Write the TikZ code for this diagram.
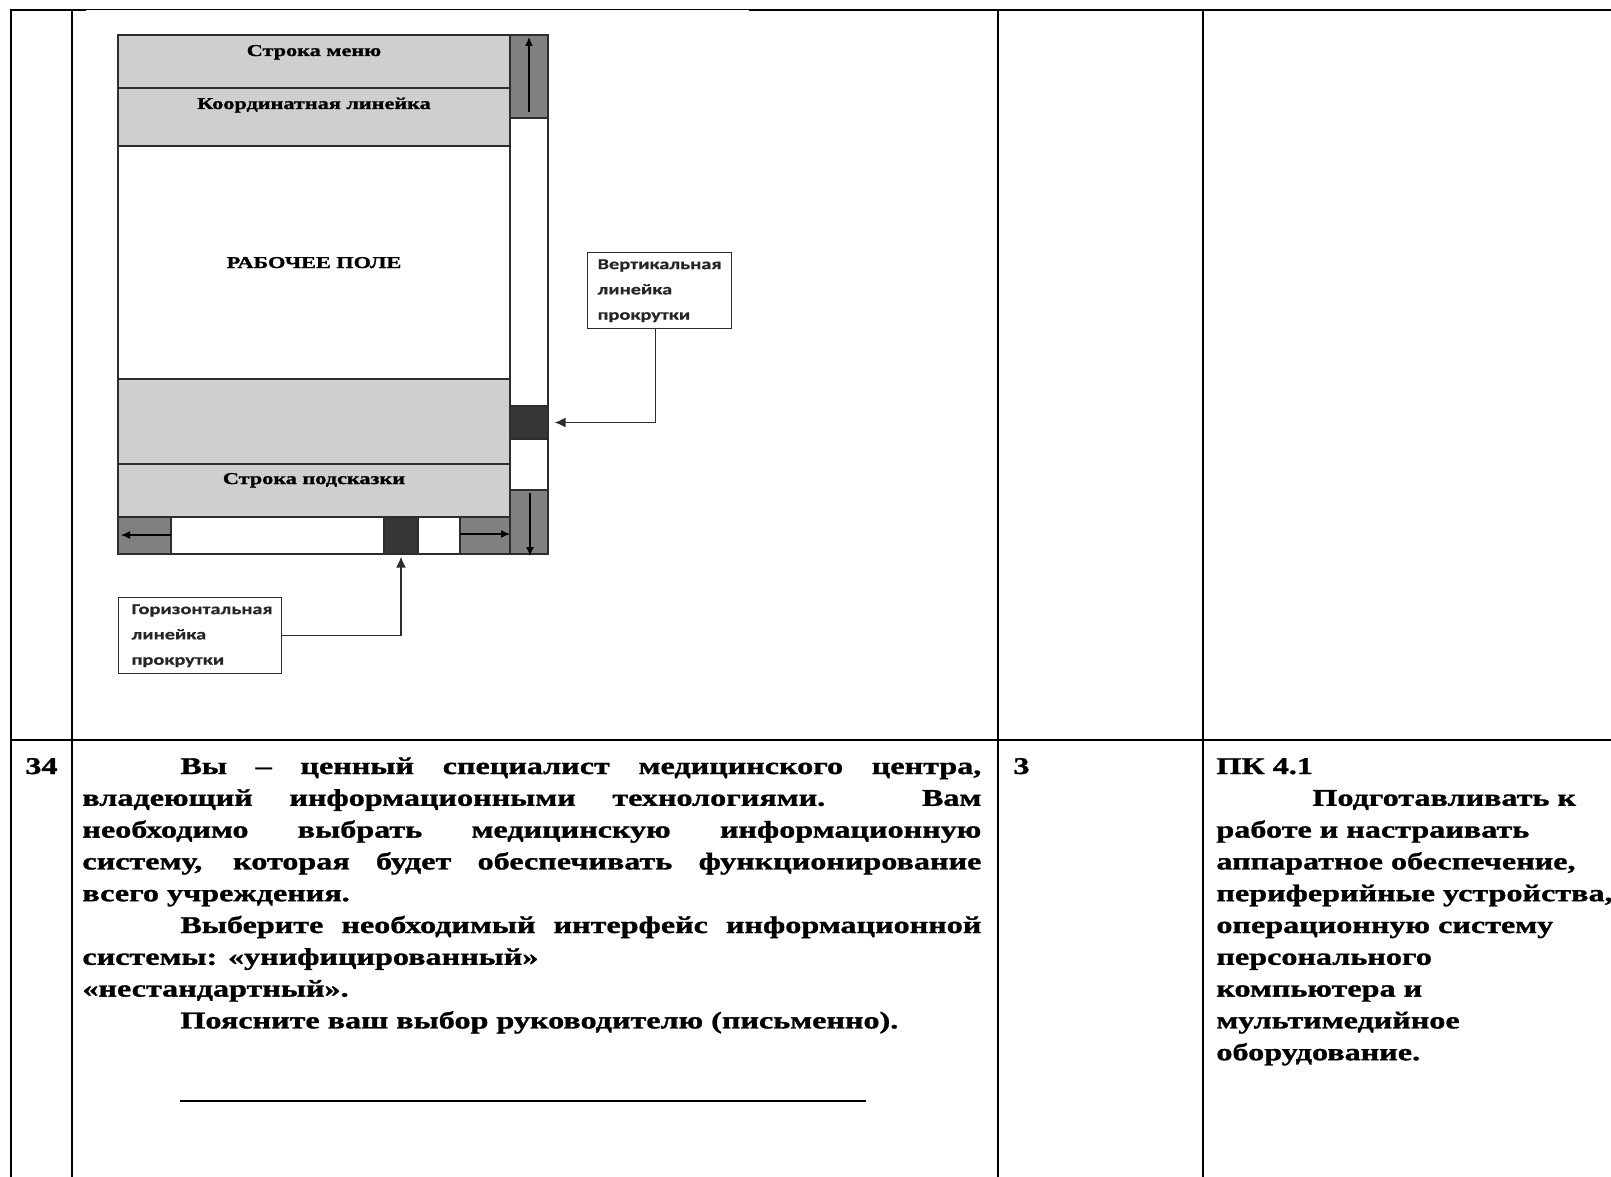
\documentclass[tikz,border=0pt]{standalone}
\usepackage{fontspec}
\setmainfont{Liberation Serif}[FakeStretch=1.34, BoldFeatures={FakeBold=1.2}]
\newfontfamily\lblfont{Carlito}[FakeStretch=1.34, BoldFeatures={FakeBold=0.6}]
\usetikzlibrary{positioning,arrows.meta}
\definecolor{bandgray}{RGB}{208,206,209}
\definecolor{btngray}{RGB}{128,128,128}
\definecolor{thumbgray}{RGB}{56,54,52}
\definecolor{edgegray}{RGB}{45,45,45}
\tikzset{
  grid/.style={line width=1.1pt},
  part/.style={draw=edgegray, line width=0.6pt},
  band/.style={part, fill=bandgray},
  btn/.style={part, fill=btngray},
  thumb/.style={part, fill=thumbgray, inner sep=0pt},
  pin/.style={-{Latex[length=4.5pt,width=4pt]}, line width=0.6pt},
  line/.style={-{Latex[length=5.5pt,width=5pt]}, draw=edgegray, line width=0.75pt},
  lbl/.style={draw=edgegray, line width=0.6pt, align=left, text=black!85,
    font=\lblfont\bfseries\fontsize{7.6}{12.65}\selectfont, minimum height=37.5pt},
  bandtext/.style={anchor=base, inner sep=0pt, font=\bfseries\fontsize{8.3}{10}\selectfont},
  cell/.style={anchor=base west, inner sep=0pt, font=\bfseries\fontsize{12}{15.9}\selectfont}
}

\begin{document}
\begin{tikzpicture}[x=0.5pt, y=-0.5pt]
  \useasboundingbox (0,0) rectangle (1611,1177);

  % table grid
  \draw[grid] (11,1177) -- (11,10) -- (86,10);
  \draw[line width=0.5pt] (86,10) -- (749,10);
  \draw[grid] (749,10) -- (1611,10);
  \draw[grid] (11,740) -- (1611,740);
  \draw[grid] (72,10) -- (72,1177);
  \draw[grid] (998,10) -- (998,1177);
  \draw[grid] (1203,10) -- (1203,1177);

  % window
  \path[band] (118,35) rectangle (510,88);
  \path[band] (118,88) rectangle (510,146);
  \path[part, fill=white] (118,146) rectangle (510,379);
  \path[band] (118,379) rectangle (510,464);
  \path[band] (118,464) rectangle (510,517);
  \path[btn] (118,517) rectangle (171,554);
  \path[part, fill=white] (171,517) rectangle (384,554);
  \path[part, fill=white] (418,517) rectangle (460,554);
  \path[btn] (460,517) rectangle (510,554);
  \node[thumb, minimum width=17pt, minimum height=18.5pt] (hthumb) at (401,535.5) {};
  \path[btn] (510,35) rectangle (548,118);
  \path[part, fill=white] (510,118) rectangle (548,406);
  \path[part, fill=white] (510,439) rectangle (548,490);
  \path[btn] (510,490) rectangle (548,554);
  \node[thumb, minimum width=19pt, minimum height=16.5pt] (vthumb) at (529,422.5) {};

  \draw[pin] (529,112) -- (529,37);
  \draw[pin] (530,493) -- (530,556);
  \draw[pin] (171,535) -- (121,535);
  \draw[pin] (460,534) -- (510,534);

  \node[bandtext] (menu) at (314,56) {Строка меню};
  \node[bandtext] (ruler) at (314,109) {Координатная линейка};
  \node[bandtext] (work) at (314,268) {РАБОЧЕЕ ПОЛЕ};
  \node[bandtext] (hint) at (314,484) {Строка подсказки};

  \node[lbl, text width=62pt, inner xsep=5pt, anchor=north west] (vlabel) at (587,252)
    {Вертикальная\\линейка\\прокрутки};
  \node[lbl, text width=68.5pt, inner xsep=6.5pt, anchor=north west] (hlabel) at (118,597)
    {Горизонтальная\\линейка\\прокрутки};

  \draw[line] ([xshift=-2pt]vlabel.south) |- ([xshift=3pt]vthumb.east);
  \draw[line] (hlabel.east) -| ([yshift=-1pt]hthumb.south);

  % row 34
  \node[cell] (num) at (25,774) {34};
  \node[cell] (task) at (82,774) {\parbox[t]{449.5pt}{\setlength{\parindent}{49pt}%
    Вы – ценный специалист медицинского центра,\linebreak
    владеющий информационными технологиями. Вам\linebreak
    необходимо выбрать медицинскую информационную\linebreak
    систему, которая будет обеспечивать функционирование\linebreak
    всего учреждения.\par
    Выберите необходимый интерфейс информационной\linebreak
    системы: «унифицированный»\newline
    «нестандартный».\par
    Поясните ваш выбор руководителю (письменно).\par
    \vspace{\baselineskip}\rule[-5.2pt]{343pt}{1pt}}};
  \node[cell] (score) at (1013,774) {3};
  \node[cell] (comp) at (1216,774) {\parbox[t]{230pt}{\raggedright
    ПК 4.1\\
    \hspace*{48pt}Подготавливать к\\
    работе и настраивать\\
    аппаратное обеспечение,\\
    периферийные устройства,\\
    операционную систему\\
    персонального\\
    компьютера и\\
    мультимедийное\\
    оборудование.}};
\end{tikzpicture}
\end{document}
